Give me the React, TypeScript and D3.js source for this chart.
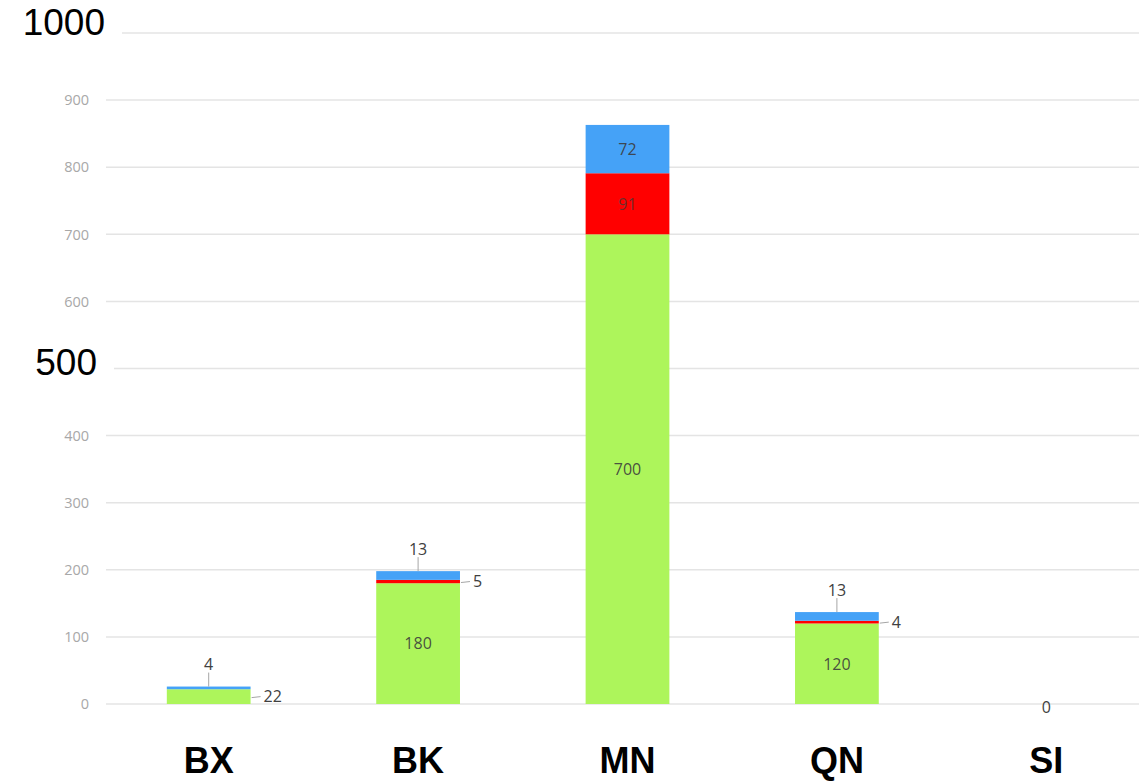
import React from "react";
import * as d3 from "d3";

const categories = ["BX", "BK", "MN", "QN", "SI"];
const greenValues = [22, 180, 700, 120, 0];
const redValues = [0, 5, 91, 4, 0];
const blueValues = [4, 13, 72, 13, 0];
const smallTicks = [0, 100, 200, 300, 400, 600, 700, 800, 900];
const bigTicks = [500, 1000];

const W = 1139;
const H = 783;
const COLORS = { green: "#adf55b", red: "#ff0000", blue: "#45a2f7" };
const labelFont = "'Open Sans', 'DejaVu Sans', sans-serif";

export default function App() {
  const y = d3.scaleLinear().domain([0, 1000]).range([704, 33]);
  const x = d3
    .scaleBand<string>()
    .domain(categories)
    .range([104, 1151])
    .paddingInner(0.6)
    .paddingOuter(0.3);
  const bw = x.bandwidth();

  const rows = categories.map((c, i) => ({
    cat: c,
    green: greenValues[i],
    red: redValues[i],
    blue: blueValues[i],
  }));
  const keys = ["green", "red", "blue"] as const;
  const stack = d3.stack<any>().keys(keys as any)(rows);

  const gridStart = (v: number) => (v === 1000 ? 122 : v === 500 ? 114 : 106);

  return (
    <svg
      width={W}
      height={H}
      style={{ position: "absolute", left: 0, top: 0, background: "#fff" }}
    >
      {[...smallTicks, ...bigTicks].map((v) => (
        <line
          key={"g" + v}
          x1={gridStart(v)}
          x2={W}
          y1={y(v)}
          y2={y(v)}
          stroke="#e4e4e4"
          strokeWidth={1.5}
        />
      ))}
      {smallTicks.map((v) => (
        <text
          key={"t" + v}
          x={89}
          y={y(v)}
          dy="0.36em"
          textAnchor="end"
          fontFamily={labelFont}
          fontSize={14.5}
          fill="#a8a8a8"
        >
          {v}
        </text>
      ))}
      {bigTicks.map((v) => (
        <text
          key={"b" + v}
          x={v === 1000 ? 105 : 97}
          y={v === 1000 ? y(v) + 2 : y(v) + 6}
          textAnchor="end"
          fontFamily="'Liberation Sans', Arial, sans-serif"
          fontSize={37}
          fill="#000"
        >
          {v}
        </text>
      ))}

      {stack.map((layer) => {
        const key = layer.key as keyof typeof COLORS;
        return (
          <g key={key}>
            {layer.map((d, i) => {
              const val = d[1] - d[0];
              const x0 = x(categories[i])!;
              const yTop = y(d[1]);
              const yBot = y(d[0]);
              const h = yBot - yTop;
              const cx = x0 + bw / 2;
              const els: any[] = [];
              if (val > 0) {
                els.push(
                  <rect
                    key="r"
                    x={x0}
                    y={yTop}
                    width={bw}
                    height={h}
                    fill={COLORS[key]}
                  />
                );
                if (h > 20) {
                  els.push(
                    <text
                      key="l"
                      x={cx}
                      y={(yTop + yBot) / 2}
                      dy="0.36em"
                      textAnchor="middle"
                      fontFamily={labelFont}
                      fontSize={16}
                      fill="#3c3c3c"
                      fillOpacity={key === "red" ? 0.75 : 0.9}
                    >
                      {val}
                    </text>
                  );
                } else if (key === "blue") {
                  els.push(
                    <line
                      key="ll"
                      x1={cx}
                      x2={cx}
                      y1={yTop}
                      y2={yTop - 14}
                      stroke="#a6a6a6"
                      strokeWidth={1}
                    />,
                    <text
                      key="l"
                      x={cx}
                      y={yTop - 22}
                      dy="0.36em"
                      textAnchor="middle"
                      fontFamily={labelFont}
                      fontSize={16}
                      fill="#404040"
                    >
                      {val}
                    </text>
                  );
                } else {
                  const ly = (yTop + yBot) / 2 + 1;
                  els.push(
                    <line
                      key="ll"
                      x1={x0 + bw + 1}
                      x2={x0 + bw + 10}
                      y1={ly}
                      y2={ly - 1}
                      stroke="#a6a6a6"
                      strokeWidth={1}
                    />,
                    <text
                      key="l"
                      x={x0 + bw + 13}
                      y={ly - 1}
                      dy="0.36em"
                      textAnchor="start"
                      fontFamily={labelFont}
                      fontSize={16}
                      fill="#404040"
                    >
                      {val}
                    </text>
                  );
                }
              }
              return <g key={i}>{els}</g>;
            })}
          </g>
        );
      })}

      {rows.map((r) =>
        r.green + r.red + r.blue === 0 ? (
          <text
            key={"z" + r.cat}
            x={x(r.cat)! + bw / 2}
            y={y(0) + 3}
            dy="0.36em"
            textAnchor="middle"
            fontFamily={labelFont}
            fontSize={16}
            fill="#404040"
          >
            0
          </text>
        ) : null
      )}

      {categories.map((c) => (
        <text
          key={"x" + c}
          x={x(c)! + bw / 2}
          y={773}
          textAnchor="middle"
          fontFamily="'Liberation Sans', Arial, sans-serif"
          fontWeight="bold"
          fontSize={36}
          fill="#000"
        >
          {c}
        </text>
      ))}
    </svg>
  );
}
